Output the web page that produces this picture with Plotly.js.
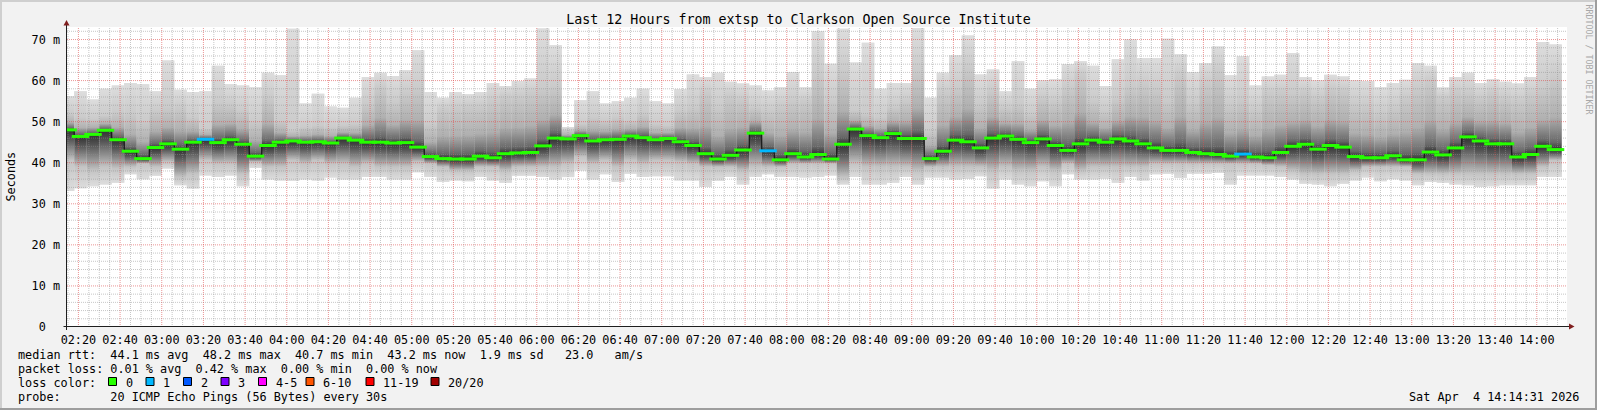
<!DOCTYPE html>
<html><head><meta charset="utf-8">
<script src="https://cdn.plot.ly/plotly-3.0.1.min.js"></script>
<style>html,body{margin:0;padding:0;background:#f2f2f2;overflow:hidden}#chart{width:1597px;height:410px}</style>
</head><body><div id="chart"></div>
<script>
// ---- data (ms), one entry per 6-minute bin starting 02:12 ----
const binMin = [33.1,33.8,34.3,34.7,35.1,37.2,36.0,36.8,38.6,34.5, 33.7,36.9,36.5,36.9,34.3,38.7,35.9,35.7,35.6,35.9, 35.7,36.4,35.9,35.9,36.5,36.5,35.9,35.9,37.7,36.5, 35.3,35.7,35.5,36.5,35.7,35.1,36.8,36.8,36.5,35.9, 36.5,38.1,35.9,37.2,35.3,37.3,36.5,36.7,36.7,35.7, 35.7,34.1,35.6,36.5,34.7,36.5,37.2,36.5,36.5,36.4, 36.5,36.9,34.7,36.5,34.7,34.7,35.1,36.5,34.7,36.4, 36.4,35.9,36.1,36.7,33.7,35.9,34.7,34.3,35.5,34.3, 37.2,35.9,35.9,36.1,35.1,36.5,35.7,37.2,37.3,36.3, 37.3,37.3,37.5,34.7,36.9,36.9,36.9,36.5,35.9,34.9, 34.7,34.3,34.9,35.7,36.4,35.5,36.0,35.7,34.5,35.3, 35.1,34.7,34.5,34.1,34.3,34.5,34.5,34.5,36.5,36.5];
const binQ1 = [40.6,39.0,38.1,39.0,38.6,39.0,39.8,39.0,40.2,36.5, 37.3,40.6,39.8,39.8,37.3,40.2,39.0,39.0,40.6,39.8, 40.6,39.8,39.8,39.0,39.8,39.0,39.0,39.0,40.2,39.8, 39.0,38.1,38.1,39.0,39.0,38.1,39.0,39.0,39.0,39.0, 39.8,41.4,39.8,40.6,39.0,40.6,39.8,40.6,40.6,40.2, 39.8,39.0,39.0,39.0,38.1,39.0,39.0,39.0,39.8,39.8, 39.8,39.8,36.5,39.8,39.0,39.0,39.0,39.0,38.1,39.0, 39.0,39.0,39.0,39.0,38.1,39.0,38.1,38.1,39.0,38.1, 39.8,38.1,39.0,39.0,39.0,39.0,39.0,39.8,39.8,39.8, 39.8,39.8,39.8,39.8,39.8,39.8,39.4,39.0,38.1,37.3, 37.3,37.3,37.3,38.1,39.0,39.0,39.0,39.0,37.3,37.3, 37.3,37.3,37.3,37.3,37.3,37.3,37.3,37.3,39.0,40.6];
const binMed = [48.0,46.4,46.9,47.9,45.6,42.8,41.0,43.7,44.6,43.3, 45.0,45.7,44.9,45.6,44.5,41.6,44.2,45.0,45.3,45.0, 45.1,44.8,46.0,45.5,45.0,45.0,44.8,44.9,43.8,41.5, 41.0,40.9,40.9,41.6,41.2,42.2,42.4,42.5,44.1,46.0, 45.8,46.6,45.3,45.6,45.7,46.5,46.1,45.6,45.9,45.1, 44.2,42.2,40.9,41.8,43.1,47.2,42.9,40.7,42.2,41.4, 42.0,40.9,44.5,48.2,46.6,46.1,47.1,45.9,45.9,41.0, 42.8,45.5,45.1,43.6,46.0,46.5,45.7,44.9,45.8,44.2, 43.0,44.6,45.5,45.0,45.8,45.3,44.6,43.6,43.0,43.0, 42.5,42.2,42.0,41.6,42.1,41.4,41.2,42.5,44.0,44.5, 43.3,44.2,43.8,41.5,41.2,41.2,41.7,40.7,40.7,42.6, 41.9,43.6,46.3,45.3,44.6,44.6,41.4,42.0,44.0,43.2];
const binQ3 = [52.0,51.1,50.7,51.5,52.4,52.0,50.3,52.8,53.6,53.6, 51.1,48.3,54.8,54.4,52.8,50.3,56.0,50.3,47.9,48.7, 49.1,48.7,49.1,49.5,54.4,58.4,54.8,57.2,58.4,49.5, 53.2,53.6,54.0,54.0,55.2,56.4,56.4,57.2,58.4,58.8, 47.9,49.5,51.1,50.3,51.1,50.3,52.0,49.5,49.1,52.8, 53.6,57.2,53.6,56.4,55.6,53.6,52.8,54.0,55.2,55.2, 61.7,55.2,62.5,52.8,52.0,51.1,53.6,55.2,62.5,47.9, 57.2,58.4,63.3,54.4,57.6,53.6,54.4,52.0,56.0,55.2, 58.4,61.7,55.2,52.8,55.6,58.8,59.3,58.4,55.2,61.7, 54.8,59.7,62.5,54.4,55.6,53.2,57.2,57.6,57.2,57.6, 56.0,58.4,58.0,54.4,54.0,52.4,53.6,56.0,58.4,60.1, 56.0,57.6,57.2,56.0,57.2,56.0,55.2,56.8,58.4,60.9];
const binMax = [56.2,57.4,55.4,58.0,58.8,59.4,59.1,57.4,64.9,57.8, 57.2,57.4,63.6,59.1,58.8,58.4,61.9,61.3,72.6,54.4, 56.8,53.7,53.4,55.8,60.9,61.9,61.1,62.5,67.4,57.2, 55.8,57.2,56.7,57.2,59.4,58.7,59.9,60.5,72.7,68.6, 48.7,55.2,57.4,54.4,55.0,55.8,58.0,55.0,54.4,57.9, 61.5,60.9,61.9,59.7,59.3,58.8,57.6,58.4,62.1,58.4, 72.0,64.1,72.6,64.4,69.2,58.0,59.4,59.4,72.8,55.8, 61.9,66.2,71.0,61.5,62.7,57.4,64.7,58.0,60.1,60.3, 64.0,64.7,63.6,58.7,65.2,70.0,65.5,65.5,70.2,66.4, 62.1,64.3,68.3,61.3,65.9,58.8,61.0,61.4,66.7,60.9, 60.1,61.4,61.0,60.1,59.9,58.4,59.4,60.2,64.3,63.6, 58.3,60.9,61.9,59.4,60.3,59.7,59.3,60.9,69.4,68.8];
const binLoss = [0,0,0,0,0,0,0,0,0,0, 0,1,0,0,0,0,0,0,0,0, 0,0,0,0,0,0,0,0,0,0, 0,0,0,0,0,0,0,0,0,0, 0,0,0,0,0,0,0,0,0,0, 0,0,0,0,0,0,1,0,0,0, 0,0,0,0,0,0,0,0,0,0, 0,0,0,0,0,0,0,0,0,0, 0,0,0,0,0,0,0,0,0,0, 0,0,0,0,1,0,0,0,0,0, 0,0,0,0,0,0,0,0,0,0, 0,0,0,0,0,0,0,0,0,0];
const lossLabels = ['0','1','2','3','4-5','6-10','11-19','20/20'];
const lossColors = ['#26ff00','#00b8ff','#0059ff','#7e00ff','#ff00ff','#ff5500','#ff0000','#a10000'];
const yTickVals = [0,10,20,30,40,50,60,70];
const yTickText = ['0\u00a0\u00a0','10 m','20 m','30 m','40 m','50 m','60 m','70 m'];
const titleText = 'Last 12 Hours from extsp to Clarkson Open Source Institute';
const statLines = [
  'median rtt:  44.1 ms avg  48.2 ms max  40.7 ms min  43.2 ms now  1.9 ms sd   23.0   am/s',
  'packet loss: 0.01 % avg  0.42 % max  0.00 % min  0.00 % now',
  'loss color:',
  'probe:       20 ICMP Echo Pings (56 Bytes) every 30s'
];
const dateLine = 'Sat Apr  4 14:14:31 2026';
const watermark = 'RRDTOOL / TOBI OETIKER';

const STEP_MS = 360000;
const FIRST_CENTER = Date.UTC(2026,3,4,2,15,0);
const RANGE_START = Date.UTC(2026,3,4,2,14,31);
const RANGE_END = Date.UTC(2026,3,4,14,14,31);
const Y_TOP = 73.05;

// ---- layout helpers (pixel -> paper) ----
const FONT = 'DejaVu Sans Mono, monospace';
const PL = 67, PR = 1567, PT = 27, PB = 327;
const PX = x => (x - PL) / (PR - PL);
const PY = y => (PB - y) / (PB - PT);
const nb = s => s.replace(/ /g, '\u00a0');

const centers = binMed.map((_, i) => FIRST_CENTER + i * STEP_MS);

function smokeScale(mn, q1, md, q3, mx) {
  const r = mx - mn, f = v => (v - mn) / r;
  const coreLo = md - 0.3 * (md - q1);
  const coreHi = md + 0.1 * (q3 - md);
  const upMid = md + 0.45 * (q3 - md);
  return [
    [0, '#dddddd'],
    [f(q1), '#c4c4c4'],
    [f(coreLo), '#555555'],
    [f(md), '#303030'],
    [f(coreHi), '#686868'],
    [f(upMid), '#b0b0b0'],
    [f(q3), '#cbcbcb'],
    [1, '#dddddd']
  ];
}

const traces = [];
traces.push({
  type: 'bar', x: centers, base: binMin, y: binMax.map((v, i) => v - binMin[i]),
  width: STEP_MS, marker: {color: '#dcdcdc', line: {width: 0}}, hoverinfo: 'skip'
});
centers.forEach((c, i) => {
  const a = c - STEP_MS / 2, b = c + STEP_MS / 2;
  traces.push({
    type: 'scatter', mode: 'lines', x: [a, b, b, a, a],
    y: [binMin[i], binMin[i], binMax[i], binMax[i], binMin[i]],
    fill: 'toself', line: {width: 0},
    fillgradient: {type: 'vertical', colorscale: smokeScale(binMin[i], binQ1[i], binMed[i], binQ3[i], binMax[i])},
    hoverinfo: 'skip'
  });
});

// grid (drawn above smoke, like rrdtool)
function vGrid(times) { const x = [], y = []; times.forEach(t => { x.push(t, t, null); y.push(0, Y_TOP, null); }); return {x, y}; }
function hGrid(vals) { const x = [], y = []; vals.forEach(v => { x.push(RANGE_START, RANGE_END, null); y.push(v, v, null); }); return {x, y}; }
const minorT = [], majorT = [];
for (let t = Date.UTC(2026,3,4,2,15); t < RANGE_END; t += 300000) {
  if (((t / 60000) % 20) === 0) majorT.push(t); else minorT.push(t);
}
const minorV = [], majorV = [];
for (let v = 2; v < Y_TOP; v += 2) { if (v % 10 === 0) majorV.push(v); else minorV.push(v); }
const minorStyle = {color: 'rgba(143,143,143,0.5)', width: 1, dash: '1px,1px'};
const majorStyle = {color: 'rgba(222,79,79,0.6)', width: 1, dash: '1px,1px'};
[[vGrid(minorT), minorStyle], [hGrid(minorV), minorStyle], [vGrid(majorT), majorStyle], [hGrid(majorV), majorStyle]].forEach(([g, s]) => {
  traces.push({type: 'scatter', mode: 'lines', x: g.x, y: g.y, line: s, hoverinfo: 'skip', connectgaps: false});
});

// median: thin black step line + loss-coloured 3px segments
traces.push({type: 'scatter', mode: 'lines', x: centers, y: binMed, line: {color: '#000000', width: 1, shape: 'hvh'}, hoverinfo: 'skip'});
const medColors = binLoss.map(l => lossColors[l]);
traces.push({
  type: 'scatter', mode: 'markers', x: centers, y: binMed,
  marker: {symbol: 'line-ew', size: 12.5, color: medColors, line: {width: 3, color: medColors}},
  hoverinfo: 'skip'
});

// ---- shapes ----
const shapes = [];
const rect = (x0, y0, x1, y1, fill, line) => ({type: 'rect', xref: 'paper', yref: 'paper', x0: PX(x0), x1: PX(x1), y0: PY(y0), y1: PY(y1), fillcolor: fill, line: line || {width: 0}, layer: 'above'});
shapes.push(rect(0, 0, 1597, 2, '#cfcfcf'));
shapes.push(rect(0, 0, 2, 410, '#cfcfcf'));
shapes.push(rect(1595, 0, 1597, 410, '#9e9e9e'));
shapes.push(rect(0, 408, 1597, 410, '#9e9e9e'));
// axes with arrows
shapes.push({type: 'line', xref: 'paper', yref: 'paper', x0: PX(63.5), x1: PX(1570), y0: PY(326.5), y1: PY(326.5), line: {color: '#1f1f1f', width: 1}, layer: 'above'});
shapes.push({type: 'line', xref: 'paper', yref: 'paper', x0: PX(66.5), x1: PX(66.5), y0: PY(330), y1: PY(23), line: {color: '#1f1f1f', width: 1}, layer: 'above'});
const path = pts => 'M' + pts.map(p => PX(p[0]) + ',' + PY(p[1])).join('L') + 'Z';
shapes.push({type: 'path', xref: 'paper', yref: 'paper', path: path([[63.5, 25.5], [69.5, 25.5], [66.5, 20]]), fillcolor: '#801f1f', line: {width: 0}, layer: 'above'});
shapes.push({type: 'path', xref: 'paper', yref: 'paper', path: path([[1569, 323.5], [1569, 329.5], [1574.5, 326.5]]), fillcolor: '#801f1f', line: {width: 0}, layer: 'above'});

// loss colour legend boxes
const boxLeft = [108.5, 146, 183.5, 221, 258.5, 306, 366, 431];
const boxText = [123.5, 161, 199, 236, 273.5, 321, 381, 446];
const annotations = [];
lossColors.forEach((c, i) => {
  shapes.push(rect(boxLeft[i], 377.5, boxLeft[i] + 8, 385.5, c, {color: '#000000', width: 1}));
  annotations.push({xref: 'paper', yref: 'paper', x: PX(boxText[i]), y: PY(382.5), xanchor: 'left', yanchor: 'middle', text: nb(lossLabels[i]), showarrow: false, font: {family: FONT, size: 11.8, color: '#000'}});
});
const lineY = [355, 369, 382.5, 396.5];
statLines.forEach((s, i) => {
  annotations.push({xref: 'paper', yref: 'paper', x: PX(16), y: PY(lineY[i]), xanchor: 'left', yanchor: 'middle', text: nb(s), showarrow: false, font: {family: FONT, size: 11.8, color: '#000'}});
});
annotations.push({xref: 'paper', yref: 'paper', x: PX(1581), y: PY(396.5), xanchor: 'right', yanchor: 'middle', text: nb(dateLine), showarrow: false, font: {family: FONT, size: 11.8, color: '#000'}});
annotations.push({xref: 'paper', yref: 'paper', x: PX(10.5), y: PY(177), xanchor: 'center', yanchor: 'middle', textangle: -90, text: 'Seconds', showarrow: false, font: {family: FONT, size: 11.8, color: '#000'}});
annotations.push({xref: 'paper', yref: 'paper', x: PX(1588.5), y: PY(59), xanchor: 'center', yanchor: 'middle', textangle: 90, text: nb(watermark), showarrow: false, font: {family: FONT, size: 8.3, color: '#a8a8a8'}});

const layout = {
  width: 1597, height: 410,
  paper_bgcolor: '#f2f2f2', plot_bgcolor: '#ffffff',
  margin: {l: PL, r: 1597 - PR, t: PT, b: 410 - PB, pad: 0},
  showlegend: false, barmode: 'overlay',
  title: {text: titleText, font: {family: FONT, size: 13.3, color: '#000'}, xref: 'container', x: 0.5, xanchor: 'center', yref: 'container', y: 1 - 19.5 / 410, yanchor: 'middle'},
  xaxis: {type: 'date', range: [RANGE_START, RANGE_END], tickformat: '%H:%M', tick0: Date.UTC(2026,3,4,2,20), dtick: 1200000,
    showgrid: false, zeroline: false, showline: false, ticks: '', ticklabelstandoff: 4,
    tickfont: {family: FONT, size: 11.8, color: '#000'}, fixedrange: true},
  yaxis: {range: [0, Y_TOP], tickmode: 'array', tickvals: yTickVals, ticktext: yTickText,
    showgrid: false, zeroline: false, showline: false, ticks: '', ticklabelstandoff: 6,
    tickfont: {family: FONT, size: 11.8, color: '#000'}, fixedrange: true},
  shapes, annotations
};
Plotly.newPlot('chart', traces, layout, {staticPlot: true, displayModeBar: false});
</script></body></html>
